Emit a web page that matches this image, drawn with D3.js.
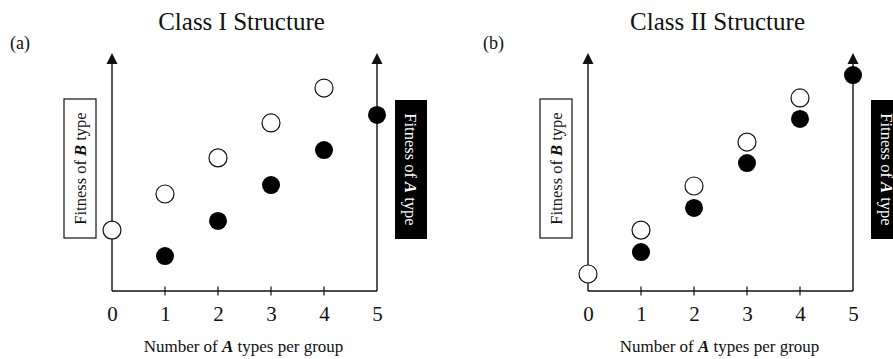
<!DOCTYPE html>
<html>
<head>
<meta charset="utf-8">
<script src="https://cdn.jsdelivr.net/npm/d3@7"></script>
<style>
  body { margin: 0; background: #fff; }
  svg { display: block; font-family: 'Liberation Serif', 'DejaVu Serif', serif; }
</style>
</head>
<body>
<svg id="chart" width="893" height="359"></svg>
<script>
// number of A types in a group
var counts = [0, 1, 2, 3, 4, 5]
// fitness values (arbitrary units, 0..10)
var classIOpenB = [2.58, 4.11, 5.64, 7.12, 8.60] // B type, groups with 0..4 A
var classIFilledA = [1.48, 2.97, 4.49, 5.97, 7.46] // A type, groups with 1..5 A
var classIIOpenB = [0.72, 2.58, 4.45, 6.31, 8.18]
var classIIFilledA = [1.65, 3.52, 5.42, 7.29, 9.15]

var titles = ['Class I Structure', 'Class II Structure']
var panelTags = ['(a)', '(b)']

var svg = d3.select('#chart')
var W = 265
var H = 236

var panels = [
  { ox: 112, oy: 55, open: classIOpenB, filled: classIFilledA, title: titles[0], tag: panelTags[0], tagX: 10 },
  { ox: 588, oy: 55, open: classIIOpenB, filled: classIIFilledA, title: titles[1], tag: panelTags[1], tagX: 483 }
]

var x = d3.scaleLinear().domain([0, 5]).range([0, W])
var y = d3.scaleLinear().domain([0, 10]).range([H, 0])

var ink = '#111'

panels.forEach(function (p) {
  svg.append('text')
    .attr('x', p.ox + W / 2 - 3)
    .attr('y', 30)
    .attr('text-anchor', 'middle')
    .style('font-size', '25px')
    .attr('fill', ink)
    .text(p.title)

  svg.append('text')
    .attr('x', p.tagX)
    .attr('y', 49)
    .style('font-size', '18px')
    .attr('fill', ink)
    .text(p.tag)

  var g = svg.append('g').attr('transform', 'translate(' + p.ox + ',' + p.oy + ')')

  // axes lines
  var top = y(10) - 2
  g.append('line').attr('x1', x(0)).attr('x2', x(0)).attr('y1', H).attr('y2', top + 8)
    .attr('stroke', ink).attr('stroke-width', 1.4)
  g.append('line').attr('x1', x(5)).attr('x2', x(5)).attr('y1', H).attr('y2', top + 8)
    .attr('stroke', ink).attr('stroke-width', 1.4)
  g.append('line').attr('x1', x(0)).attr('x2', x(5)).attr('y1', H).attr('y2', H)
    .attr('stroke', ink).attr('stroke-width', 1.4)
  ;[0, 5].forEach(function (k) {
    var cx = x(k)
    g.append('path')
      .attr('d', 'M' + cx + ',' + top + 'L' + (cx - 5.5) + ',' + (top + 11) + 'L' + (cx + 5.5) + ',' + (top + 11) + 'Z')
      .attr('fill', ink)
  })

  // tick marks crossing the axis
  g.selectAll('line.tick-mark')
    .data(counts.slice(1, 5))
    .enter().append('line')
    .attr('class', 'tick-mark')
    .attr('x1', function (d) { return x(d) })
    .attr('x2', function (d) { return x(d) })
    .attr('y1', H - 4.5)
    .attr('y2', H + 4.5)
    .attr('stroke', ink)
    .attr('stroke-width', 1.2)

  var axis = g.append('g')
    .attr('transform', 'translate(0,' + H + ')')
    .call(d3.axisBottom(x).tickValues(counts).tickSize(0).tickPadding(15).tickFormat(d3.format('d')))
  axis.select('.domain').remove()
  axis.selectAll('text')
    .style('font-size', '21px')
    .style('font-family', "'Liberation Serif', serif")
    .attr('fill', ink)

  // x axis title
  var xt = g.append('text')
    .attr('x', W / 2 - 1)
    .attr('y', H + 61)
    .attr('text-anchor', 'middle')
    .style('font-size', '17px')
    .attr('fill', ink)
  xt.append('tspan').text('Number of ')
  xt.append('tspan').style('font-weight', 'bold').style('font-style', 'italic').text('A')
  xt.append('tspan').text(' types per group')

  // left label box (B type)
  var bTop = 44
  var bH = 139
  g.append('rect')
    .attr('x', -48).attr('y', bTop).attr('width', 32).attr('height', bH)
    .attr('fill', '#fff').attr('stroke', ink).attr('stroke-width', 1.2)
  var lt = g.append('text')
    .attr('transform', 'translate(-26,' + (bTop + bH / 2) + ') rotate(-90)')
    .attr('text-anchor', 'middle')
    .style('font-size', '16.5px')
    .attr('fill', ink)
  lt.append('tspan').text('Fitness of ')
  lt.append('tspan').style('font-weight', 'bold').style('font-style', 'italic').text('B')
  lt.append('tspan').text(' type')

  // right label box (A type)
  g.append('rect')
    .attr('x', W + 18).attr('y', bTop + 1).attr('width', 32).attr('height', bH)
    .attr('fill', '#000')
  var rt = g.append('text')
    .attr('transform', 'translate(' + (W + 28) + ',' + (bTop + 1 + bH / 2) + ') rotate(90)')
    .attr('text-anchor', 'middle')
    .style('font-size', '16.5px')
    .attr('fill', '#fff')
  rt.append('tspan').text('Fitness of ')
  rt.append('tspan').style('font-weight', 'bold').style('font-style', 'italic').text('A')
  rt.append('tspan').text(' type')

  // B type points: groups with 0..4 A types
  g.selectAll('circle.open')
    .data(p.open)
    .enter().append('circle')
    .attr('class', 'open')
    .attr('cx', function (d, i) { return x(counts[i]) })
    .attr('cy', function (d) { return y(d) })
    .attr('r', 9)
    .attr('fill', '#fff')
    .attr('stroke', ink)
    .attr('stroke-width', 1.2)

  // A type points: groups with 1..5 A types
  g.selectAll('circle.filled')
    .data(p.filled)
    .enter().append('circle')
    .attr('class', 'filled')
    .attr('cx', function (d, i) { return x(counts[i + 1]) })
    .attr('cy', function (d) { return y(d) })
    .attr('r', 9)
    .attr('fill', '#000')
})
</script>
</body>
</html>
